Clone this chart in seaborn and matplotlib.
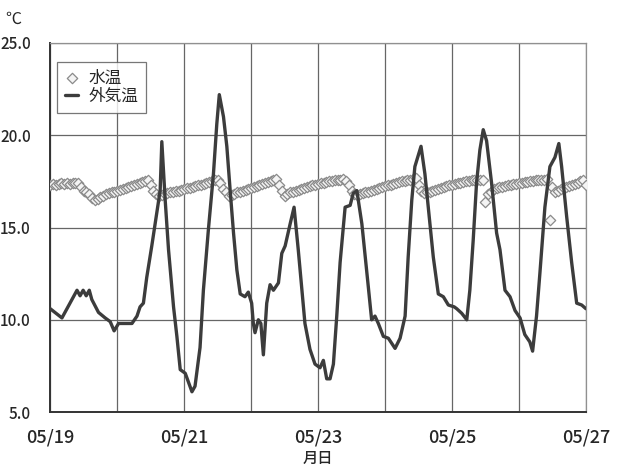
# 水温・外気温 (05/19 - 05/27)

import numpy as np
import pandas as pd
import seaborn as sns
import matplotlib.pyplot as plt

# データ ------------------------------------------------------------------

# 外気温: 05/19 00:00 からの経過時間 [h] と気温 [℃]
air_hours = [0, 4.2, 7.8, 9.6, 10.7, 11.8, 12.9, 14.0, 14.9, 17.3, 19.7, 21.5,
             22.9, 24.5, 26.9, 29.3, 31.1, 32.2, 33.4, 34.6, 36.4, 38.2, 39.4,
             40.0, 41.2, 42.4, 44.2, 45.4, 46.6, 48.4, 50.8, 51.9, 53.7, 54.9,
             56.7, 58.5, 59.7, 60.6, 62.1, 63.3, 64.5, 65.7, 66.9, 68.1, 69.8,
             71.0, 72.2, 72.8, 73.4, 74.6, 75.5, 76.4, 77.6, 78.8, 80.0, 81.8,
             83.0, 84.2, 86.0, 87.4, 88.9, 90.2, 91.3, 93.1, 94.9, 96.7, 97.9,
             99.1, 100.3, 101.5, 102.7, 103.9, 105.7, 107.5, 108.6, 109.9,
             111.7, 112.8, 114.0, 115.2, 116.4, 117.6, 119.4, 121.2, 123.6,
             125.4, 127.2, 128.3, 129.6, 130.7, 132.9, 134.3, 135.5, 137.3,
             139.1, 140.9, 142.7, 144.8, 145.7, 147.5, 149.3, 150.4, 151.6,
             152.8, 154.0, 155.2, 156.4, 158.2, 160.0, 161.2, 163.0, 164.8,
             166.6, 168.4, 170.1, 171.9, 172.9, 174.3, 175.5, 177.3, 179.1,
             180.9, 182.3, 183.3, 185.1, 186.9, 188.7, 190.5, 192.0]
air_temp = [10.6, 10.1, 11.1, 11.6, 11.3, 11.6, 11.3, 11.6, 11.1, 10.4, 10.1,
            9.9, 9.4, 9.8, 9.8, 9.8, 10.2, 10.7, 10.9, 12.3, 14.0, 15.8, 17.0,
            19.65, 16.5, 13.8, 10.7, 9.1, 7.3, 7.1, 6.1, 6.4, 8.5, 11.6, 14.9,
            17.9, 20.6, 22.2, 21.0, 19.4, 17.0, 14.7, 12.7, 11.4, 11.25, 11.5,
            10.9, 9.8, 9.3, 10.0, 9.8, 8.1, 10.9, 11.9, 11.6, 12.0, 13.6, 14.0,
            15.2, 16.1, 13.8, 11.6, 9.8, 8.4, 7.6, 7.4, 7.8, 6.8, 6.8, 7.6,
            10.2, 13.1, 16.1, 16.2, 16.85, 17.0, 15.2, 13.6, 11.8, 10.0, 10.2,
            9.8, 9.1, 9.0, 8.45, 9.0, 10.2, 13.4, 16.5, 18.3, 19.4, 17.9, 16.1,
            13.4, 11.4, 11.25, 10.8, 10.7, 10.6, 10.35, 10.0, 11.6, 14.3, 17.4,
            19.2, 20.3, 19.7, 17.4, 14.7, 13.8, 11.6, 11.25, 10.5, 10.1, 9.2,
            8.8, 8.3, 10.2, 12.5, 16.1, 18.3, 18.8, 19.55, 18.3, 15.6, 13.1,
            10.9, 10.8, 10.6]

# 水温: 1時間ごと (05/19 00:00 - 05/27 00:00)
water_temp = [
    17.30, 17.35, 17.30, 17.35, 17.40, 17.35, 17.40, 17.35, 17.40, 17.40, 17.40,
    17.20, 17.00, 16.90, 16.80, 16.60, 16.50,
    16.55, 16.65, 16.70, 16.80, 16.85, 16.90, 16.95, 17.00, 17.05, 17.10,
    17.15, 17.20, 17.25, 17.30, 17.35, 17.40, 17.45, 17.50, 17.55,
    17.30, 17.00, 16.80, 16.70,
    16.75, 16.80, 16.85, 16.90, 16.95, 17.00, 17.00, 17.05, 17.10, 17.15,
    17.15, 17.20, 17.25, 17.30, 17.30, 17.35, 17.40, 17.45, 17.50, 17.55, 17.60,
    17.40, 17.10, 16.90, 16.70,
    16.75, 16.80, 16.90, 16.95, 17.00, 17.05, 17.10, 17.15, 17.20, 17.25,
    17.30, 17.35, 17.40, 17.45, 17.50, 17.55, 17.65,
    17.30, 17.00, 16.70,
    16.80, 16.90, 16.95, 17.00, 17.05, 17.10, 17.15, 17.20, 17.25, 17.30,
    17.30, 17.35, 17.40, 17.40, 17.45, 17.50, 17.50, 17.55, 17.60, 17.60, 17.65,
    17.50, 17.30, 17.00, 16.80, 16.75,
    16.80, 16.85, 16.90, 16.95, 17.00, 17.05, 17.10, 17.15, 17.20, 17.25,
    17.30, 17.30, 17.35, 17.40, 17.45, 17.50, 17.50, 17.55, 17.60, 17.65, 17.67,
    17.30, 17.00, 16.85,
    16.90, 16.95, 17.00, 17.05, 17.10, 17.15, 17.20, 17.25, 17.30, 17.30,
    17.35, 17.40, 17.40, 17.45, 17.50, 17.50, 17.55, 17.55, 17.60, 17.60, 17.60,
    16.40, 16.80, 16.95, 17.10,
    17.15, 17.20, 17.20, 17.25, 17.30, 17.30, 17.35, 17.35, 17.40, 17.40,
    17.45, 17.45, 17.50, 17.50, 17.55, 17.55, 17.60, 17.60, 17.65,
    15.40, 17.20, 16.95, 17.00, 17.10, 17.15, 17.20, 17.25, 17.30, 17.35,
    17.40, 17.50, 17.55, 17.30]

day_labels = ['05/19', '', '05/21', '', '05/23', '', '05/25', '', '05/27']
y_ticks = [5, 10, 15, 20, 25]

air = pd.DataFrame({'day': np.array(air_hours) / 24, 'temp': air_temp})
water = pd.DataFrame({'day': np.arange(len(water_temp)) / 24, 'temp': water_temp})

# 描画 --------------------------------------------------------------------

sns.set_style('white')
plt.rcParams['font.family'] = ['Noto Sans CJK JP', 'DejaVu Sans']

fig = plt.figure(figsize=(6.2, 4.72), dpi=100)
ax = fig.add_axes([0.081, 0.127, 0.864, 0.782])

sns.scatterplot(data=water, x='day', y='temp', marker='D', s=28,
                facecolor='#f4f4f4', edgecolor='#8a8a8a', linewidth=0.9,
                label='水温', ax=ax, zorder=3)
sns.lineplot(data=air, x='day', y='temp', color='#3c3c3c', linewidth=2.4,
             label='外気温', ax=ax, zorder=4)

ax.set_xlim(0, 8)
ax.set_ylim(5, 25)
ax.set_xticks(range(len(day_labels)))
ax.set_xticklabels(day_labels, fontsize=13, fontweight='medium')
ax.set_yticks(y_ticks)
ax.set_yticklabels([f'{v:.1f}' for v in y_ticks], fontsize=11,
                   fontweight='medium')
ax.tick_params(axis='x', length=0, pad=12)
ax.tick_params(axis='y', length=0, pad=14)
ax.grid(True, color='#666666', linewidth=0.9)
ax.set_axisbelow(True)

for side in ['top', 'right']:
    ax.spines[side].set_color('#909090')
    ax.spines[side].set_linewidth(0.9)
for side in ['left', 'bottom']:
    ax.spines[side].set_color('#333333')
    ax.spines[side].set_linewidth(1.4)

ax.set_xlabel('月日', fontsize=11, fontweight='medium', labelpad=2)
ax.set_ylabel('')
fig.text(0.008, 0.96, '℃', fontsize=11.5, ha='left', va='center')

leg = ax.legend(loc='upper left', bbox_to_anchor=(0.004, 0.962), fontsize=12,
                frameon=True, fancybox=False, edgecolor='#555555',
                handlelength=0.8, handletextpad=0.6, borderpad=0.45,
                labelspacing=0.1, borderaxespad=0.3)
leg.get_frame().set_linewidth(0.9)

plt.savefig('out.png', dpi=100)
